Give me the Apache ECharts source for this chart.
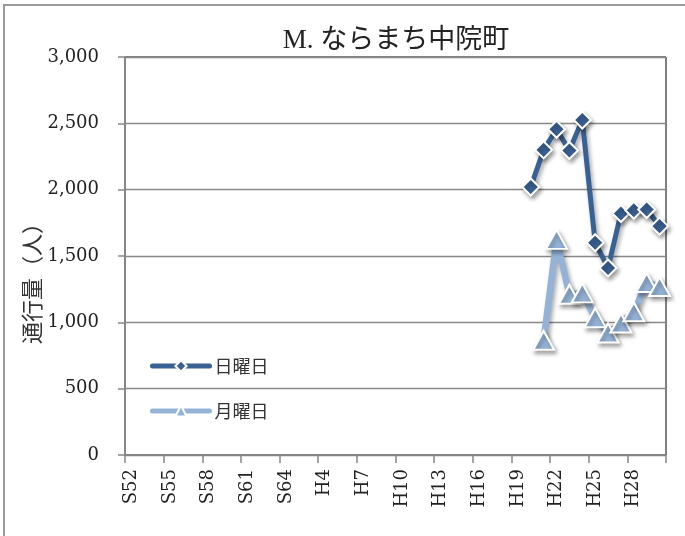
<!DOCTYPE html>
<html>
<head>
<meta charset="utf-8">
<script src="https://cdn.jsdelivr.net/npm/echarts@6/dist/echarts.min.js"></script>
<style>
  html, body { margin: 0; padding: 0; background: #fff; }
  #chart { width: 685px; height: 536px; }
</style>
</head>
<body>
<div id="chart"></div>
<script>
const titleText = 'M. ならまち中院町';
const yAxisName = '通行量（人）';
const seriesNames = ['日曜日', '月曜日'];
const categories = [
  'S52','S53','S54','S55','S56','S57','S58','S59','S60','S61','S62','S63','S64',
  'H2','H3','H4','H5','H6','H7','H8','H9','H10','H11','H12','H13','H14','H15','H16',
  'H17','H18','H19','H20','H21','H22','H23','H24','H25','H26','H27','H28','H29','H30'
];
const sundayStart = 'H20';
const sundayValues = [2020, 2300, 2455, 2295, 2525, 1600, 1410, 1820, 1845, 1850, 1725];
const mondayStart = 'H21';
const mondayValues = [865, 1625, 1212, 1222, 1035, 920, 995, 1080, 1300, 1270];
const yTicks = [0, 500, 1000, 1500, 2000, 2500, 3000];

function align(start, values) {
  const s = categories.indexOf(start);
  return categories.map((c, i) => (i >= s && i - s < values.length) ? values[i - s] : null);
}

const darkBlue = '#3A6193';
const lightBlue = '#95B3D7';
const shadow = { shadowColor: 'rgba(0,0,0,0.35)', shadowBlur: 4, shadowOffsetX: 2, shadowOffsetY: 3 };

const chart = echarts.init(document.getElementById('chart'), null, { renderer: 'canvas' });
chart.setOption({
  animation: false,
  backgroundColor: '#fff',
  title: {
    text: titleText,
    left: 391, top: 22, textAlign: 'center',
    textStyle: { fontFamily: '"Liberation Serif", "Noto Sans CJK JP"', fontSize: 27, fontWeight: 'normal', color: '#222' }
  },
  legend: {
    orient: 'vertical',
    left: 145, top: 352,
    itemWidth: 57, itemHeight: 14, itemGap: 27,
    lineStyle: { width: 5, cap: 'round', shadowBlur: 0, shadowOffsetX: 0, shadowOffsetY: 0 },
    itemStyle: { shadowBlur: 0, shadowOffsetX: 0, shadowOffsetY: 0 },
    textStyle: { fontFamily: '"Noto Sans CJK JP"', fontSize: 18, color: '#333', lineHeight: 18 },
    data: seriesNames
  },
  graphic: [
    { type: 'rect', shape: { x: 4, y: 5, width: 700, height: 600 }, style: { fill: 'none', stroke: '#9a9a9a', lineWidth: 2 }, z: 100 },
    { type: 'text', x: 32, y: 278, rotation: Math.PI / 2,
      style: { text: yAxisName, font: '22px "Noto Sans CJK JP"', fill: '#333', textAlign: 'center', textVerticalAlign: 'middle' } }
  ],
  grid: { left: 125, top: 57, right: 19, bottom: 81, show: true, borderColor: '#000', borderWidth: 1, backgroundColor: '#fff' },
  xAxis: {
    type: 'category',
    data: categories,
    boundaryGap: true,
    axisLine: { lineStyle: { color: '#888', width: 1.5 } },
    axisTick: { show: true, interval: 2, length: 8, lineStyle: { color: '#888', width: 1.5 } },
    axisLabel: { interval: 2, rotate: 90, margin: 14, fontFamily: '"DejaVu Serif"', fontSize: 18, color: '#222' },
    splitLine: { show: false }
  },
  yAxis: {
    type: 'value',
    min: yTicks[0], max: yTicks[yTicks.length - 1], interval: 500,
    axisLine: { show: true, lineStyle: { color: '#888', width: 1.5 } },
    axisTick: { show: true, length: 7, lineStyle: { color: '#888', width: 1.5 } },
    axisLabel: {
      margin: 26, fontFamily: '"DejaVu Serif"', fontSize: 18, color: '#222',
      formatter: v => v.toLocaleString('en-US')
    },
    splitLine: { lineStyle: { color: '#888', width: 1.3 } }
  },
  series: [
    {
      name: seriesNames[0], type: 'line',
      data: align(sundayStart, sundayValues),
      showAllSymbol: true,
      symbol: 'diamond', symbolSize: 17,
      lineStyle: Object.assign({ color: darkBlue, width: 5 }, shadow),
      itemStyle: Object.assign({ color: darkBlue, borderColor: '#fff', borderWidth: 2 }, shadow),
      z: 3
    },
    {
      name: seriesNames[1], type: 'line',
      data: align(mondayStart, mondayValues),
      showAllSymbol: true,
      symbol: 'triangle', symbolSize: [21, 19],
      lineStyle: Object.assign({ color: lightBlue, width: 6.5 }, shadow),
      itemStyle: Object.assign({ color: lightBlue, borderColor: '#fff', borderWidth: 2 }, shadow),
      z: 2
    }
  ]
});
</script>
</body>
</html>
